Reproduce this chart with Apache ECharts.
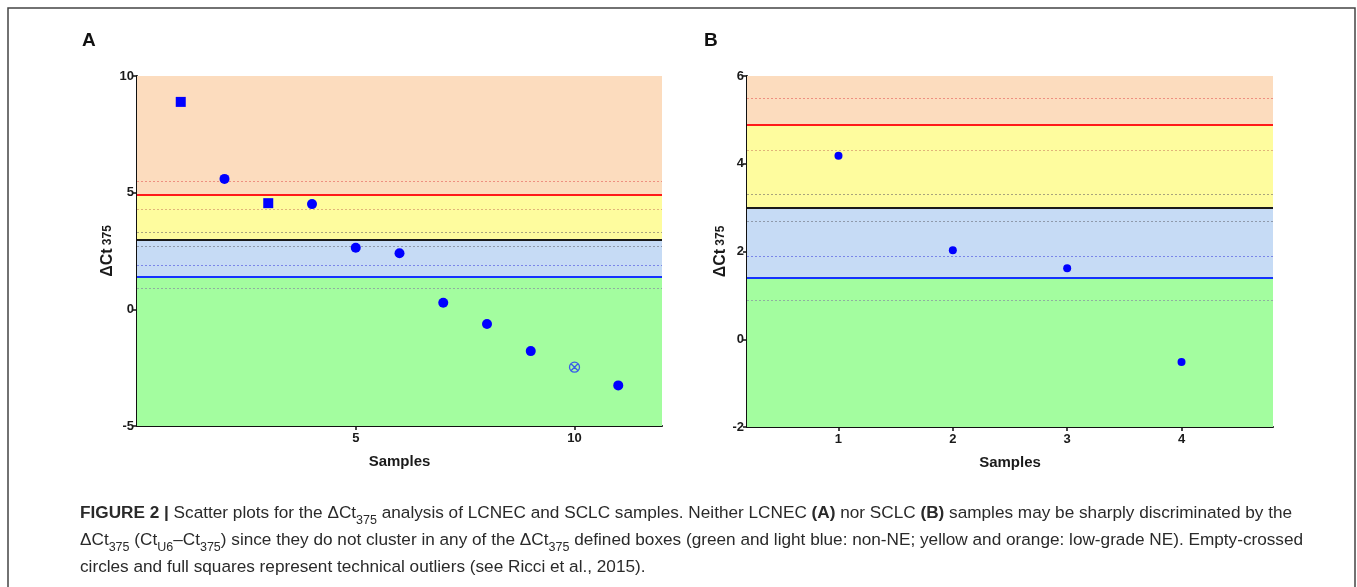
<!DOCTYPE html>
<html>
<head>
<meta charset="utf-8">
<script src="https://cdn.jsdelivr.net/npm/echarts@6/dist/echarts.min.js"></script>
<style>
  html, body { margin: 0; padding: 0; background: #fff; }
  #main { width: 1357px; height: 587px; }
</style>
</head>
<body>
<div id="main"></div>
<script>
// panel A: LCNEC samples
var circlesAX = [2, 4, 5, 6, 7, 8, 9, 11];
var circlesAY = [5.59, 4.51, 2.64, 2.40, 0.28, -0.63, -1.79, -3.26];
var squaresAX = [1, 3];
var squaresAY = [8.89, 4.55];
var crossedAX = [10];
var crossedAY = [-2.48];

// panel B: SCLC samples
var circlesBX = [1, 2, 3, 4];
var circlesBY = [4.18, 2.03, 1.62, -0.52];

// box limits (solid lines) and dotted guide lines
var limitBlue = 1.4;
var limitBlack = 3.0;
var limitRed = 4.9;
var dottedLines = [0.9, 1.9, 2.7, 3.3, 4.3, 5.5];
var dottedColors = ['#8fb0a0', '#7a86e8', '#8f9aab', '#a9a47e', '#e0b47a', '#ee8f80'];

// axis ranges and ticks
var yRangeA = [-5, 10], yStepA = 5;
var yRangeB = [-2, 6], yStepB = 2;
var xRangeA = [0, 12], xTicksA = [5, 10];
var xRangeB = [0.2, 4.8], xTicksB = [1, 2, 3, 4];

var chart = echarts.init(document.getElementById('main'));

function pairs(xs, ys) {
    var out = [];
    for (var i = 0; i < xs.length; i++) out.push([xs[i], ys[i]]);
    return out;
}

// 背景色块 + 分界线
function bandSeries(idx, yr) {
    var lines = [
        {yAxis: limitRed, lineStyle: {color: '#ff1a1a', width: 2, type: 'solid'}},
        {yAxis: limitBlack, lineStyle: {color: '#1a1a1a', width: 2, type: 'solid'}},
        {yAxis: limitBlue, lineStyle: {color: '#1433ff', width: 2, type: 'solid'}}
    ];
    for (var i = 0; i < dottedLines.length; i++) {
        lines.unshift({yAxis: dottedLines[i], lineStyle: {color: dottedColors[i], width: 1, type: [2, 2]}});
    }
    return {
        type: 'scatter',
        xAxisIndex: idx,
        yAxisIndex: idx,
        data: [],
        z: 1,
        silent: true,
        markArea: {
            silent: true,
            data: [
                [{yAxis: yr[0], itemStyle: {color: '#a3fd9f'}}, {yAxis: limitBlue}],
                [{yAxis: limitBlue, itemStyle: {color: '#c6dbf5'}}, {yAxis: limitBlack}],
                [{yAxis: limitBlack, itemStyle: {color: '#fefc9e'}}, {yAxis: limitRed}],
                [{yAxis: limitRed, itemStyle: {color: '#fcdcbe'}}, {yAxis: yr[1]}]
            ]
        },
        markLine: {
            silent: true,
            symbol: 'none',
            label: {show: false},
            data: lines
        }
    };
}

function xAxisOf(idx, range, ticks) {
    return {
        type: 'value',
        gridIndex: idx,
        min: range[0],
        max: range[1],
        name: 'Samples',
        nameLocation: 'middle',
        nameGap: 28,
        nameTextStyle: {fontFamily: 'Liberation Sans', fontWeight: 'bold', fontSize: 15, color: '#1a1a1a'},
        axisLine: {onZero: false, lineStyle: {color: '#111', width: 2}},
        axisTick: {length: 4, customValues: ticks, lineStyle: {color: '#111', width: 1.5}},
        axisLabel: {customValues: ticks, margin: 6, fontFamily: 'Liberation Sans', fontWeight: 'bold', fontSize: 13, color: '#1a1a1a'},
        splitLine: {show: false}
    };
}

function yAxisOf(idx, range, step) {
    return {
        type: 'value',
        gridIndex: idx,
        min: range[0],
        max: range[1],
        interval: step,
        name: '{m|ΔCt} {s|375}',
        nameLocation: 'middle',
        nameRotate: 90,
        nameGap: 17,
        nameTextStyle: {
            rich: {
                m: {fontFamily: 'Liberation Sans', fontWeight: 'bold', fontSize: 16, color: '#1a1a1a'},
                s: {fontFamily: 'Liberation Sans', fontWeight: 'bold', fontSize: 12, color: '#1a1a1a'}
            }
        },
        axisLine: {show: true, onZero: false, lineStyle: {color: '#111', width: 2}},
        axisTick: {show: true, length: 4, lineStyle: {color: '#111', width: 1.5}},
        axisLabel: {margin: 3, fontFamily: 'Liberation Sans', fontWeight: 'bold', fontSize: 13, color: '#1a1a1a'},
        splitLine: {show: false}
    };
}

var crossPath = 'path://M0,10A10,10 0 1,0 20,10A10,10 0 1,0 0,10Z M3,3L17,17 M17,3L3,17';

var captionRich = {
    b: {fontFamily: 'Liberation Sans', fontWeight: 'bold', fontSize: 17.2, color: '#2a2a2a', lineHeight: 27},
    n: {fontFamily: 'Liberation Sans', fontSize: 17.2, color: '#2a2a2a', lineHeight: 27},
    s: {fontFamily: 'Liberation Sans', fontSize: 12.5, color: '#2a2a2a', lineHeight: 27, verticalAlign: 'bottom'},
    l: {fontFamily: 'Liberation Sans', fontSize: 17.2, color: '#9a9a9a', lineHeight: 27}
};
var captionLines = [
    '{b|FIGURE 2 |}{n| Scatter plots for the ΔCt}{s|375}{n| analysis of LCNEC and SCLC samples. Neither LCNEC }{b|(A)}{n| nor SCLC }{b|(B)}{n| samples may be sharply discriminated by the}',
    '{n|ΔCt}{s|375}{n| (Ct}{s|U6}{n|–Ct}{s|375}{n|) since they do not cluster in any of the ΔCt}{s|375}{n| defined boxes (green and light blue: non-NE; yellow and orange: low-grade NE). Empty-crossed}',
    '{n|circles and full squares represent technical outliers (see }{l|Ricci et al., 2015}{n|).}'
];

var option = {
    backgroundColor: '#fff',
    animation: false,
    grid: [
        {left: 137, top: 76, width: 525, height: 350},
        {left: 747, top: 76, width: 526, height: 351}
    ],
    xAxis: [xAxisOf(0, xRangeA, xTicksA), xAxisOf(1, xRangeB, xTicksB)],
    yAxis: [yAxisOf(0, yRangeA, yStepA), yAxisOf(1, yRangeB, yStepB)],
    series: [
        bandSeries(0, yRangeA),
        bandSeries(1, yRangeB),
        {
            type: 'scatter', xAxisIndex: 0, yAxisIndex: 0, z: 5,
            symbol: 'circle', symbolSize: 10,
            itemStyle: {color: '#0000ff', opacity: 1},
            data: pairs(circlesAX, circlesAY)
        },
        {
            type: 'scatter', xAxisIndex: 0, yAxisIndex: 0, z: 5,
            symbol: 'rect', symbolSize: 10,
            itemStyle: {color: '#0000ff', opacity: 1},
            data: pairs(squaresAX, squaresAY)
        },
        {
            type: 'scatter', xAxisIndex: 0, yAxisIndex: 0, z: 5,
            symbol: crossPath, symbolSize: 10,
            itemStyle: {color: 'rgba(0,0,0,0)', borderColor: '#3a5ee8', borderWidth: 1.3, opacity: 1},
            data: pairs(crossedAX, crossedAY)
        },
        {
            type: 'scatter', xAxisIndex: 1, yAxisIndex: 1, z: 5,
            symbol: 'circle', symbolSize: 8,
            itemStyle: {color: '#0000ff', opacity: 1},
            data: pairs(circlesBX, circlesBY)
        }
    ],
    graphic: [
        {
            type: 'rect', silent: true,
            shape: {x: 8, y: 8, width: 1347, height: 600},
            style: {fill: 'none', stroke: '#444', lineWidth: 1.5}
        },
        {
            type: 'text', left: 82, top: 31,
            style: {text: 'A', fontFamily: 'Liberation Sans', fontWeight: 'bold', fontSize: 19, fill: '#111'}
        },
        {
            type: 'text', left: 704, top: 31,
            style: {text: 'B', fontFamily: 'Liberation Sans', fontWeight: 'bold', fontSize: 19, fill: '#111'}
        },
        {
            type: 'text', left: 80, top: 505,
            style: {text: captionLines.join('\n'), rich: captionRich, fill: '#2a2a2a'}
        }
    ]
};

chart.setOption(option);
</script>
</body>
</html>
